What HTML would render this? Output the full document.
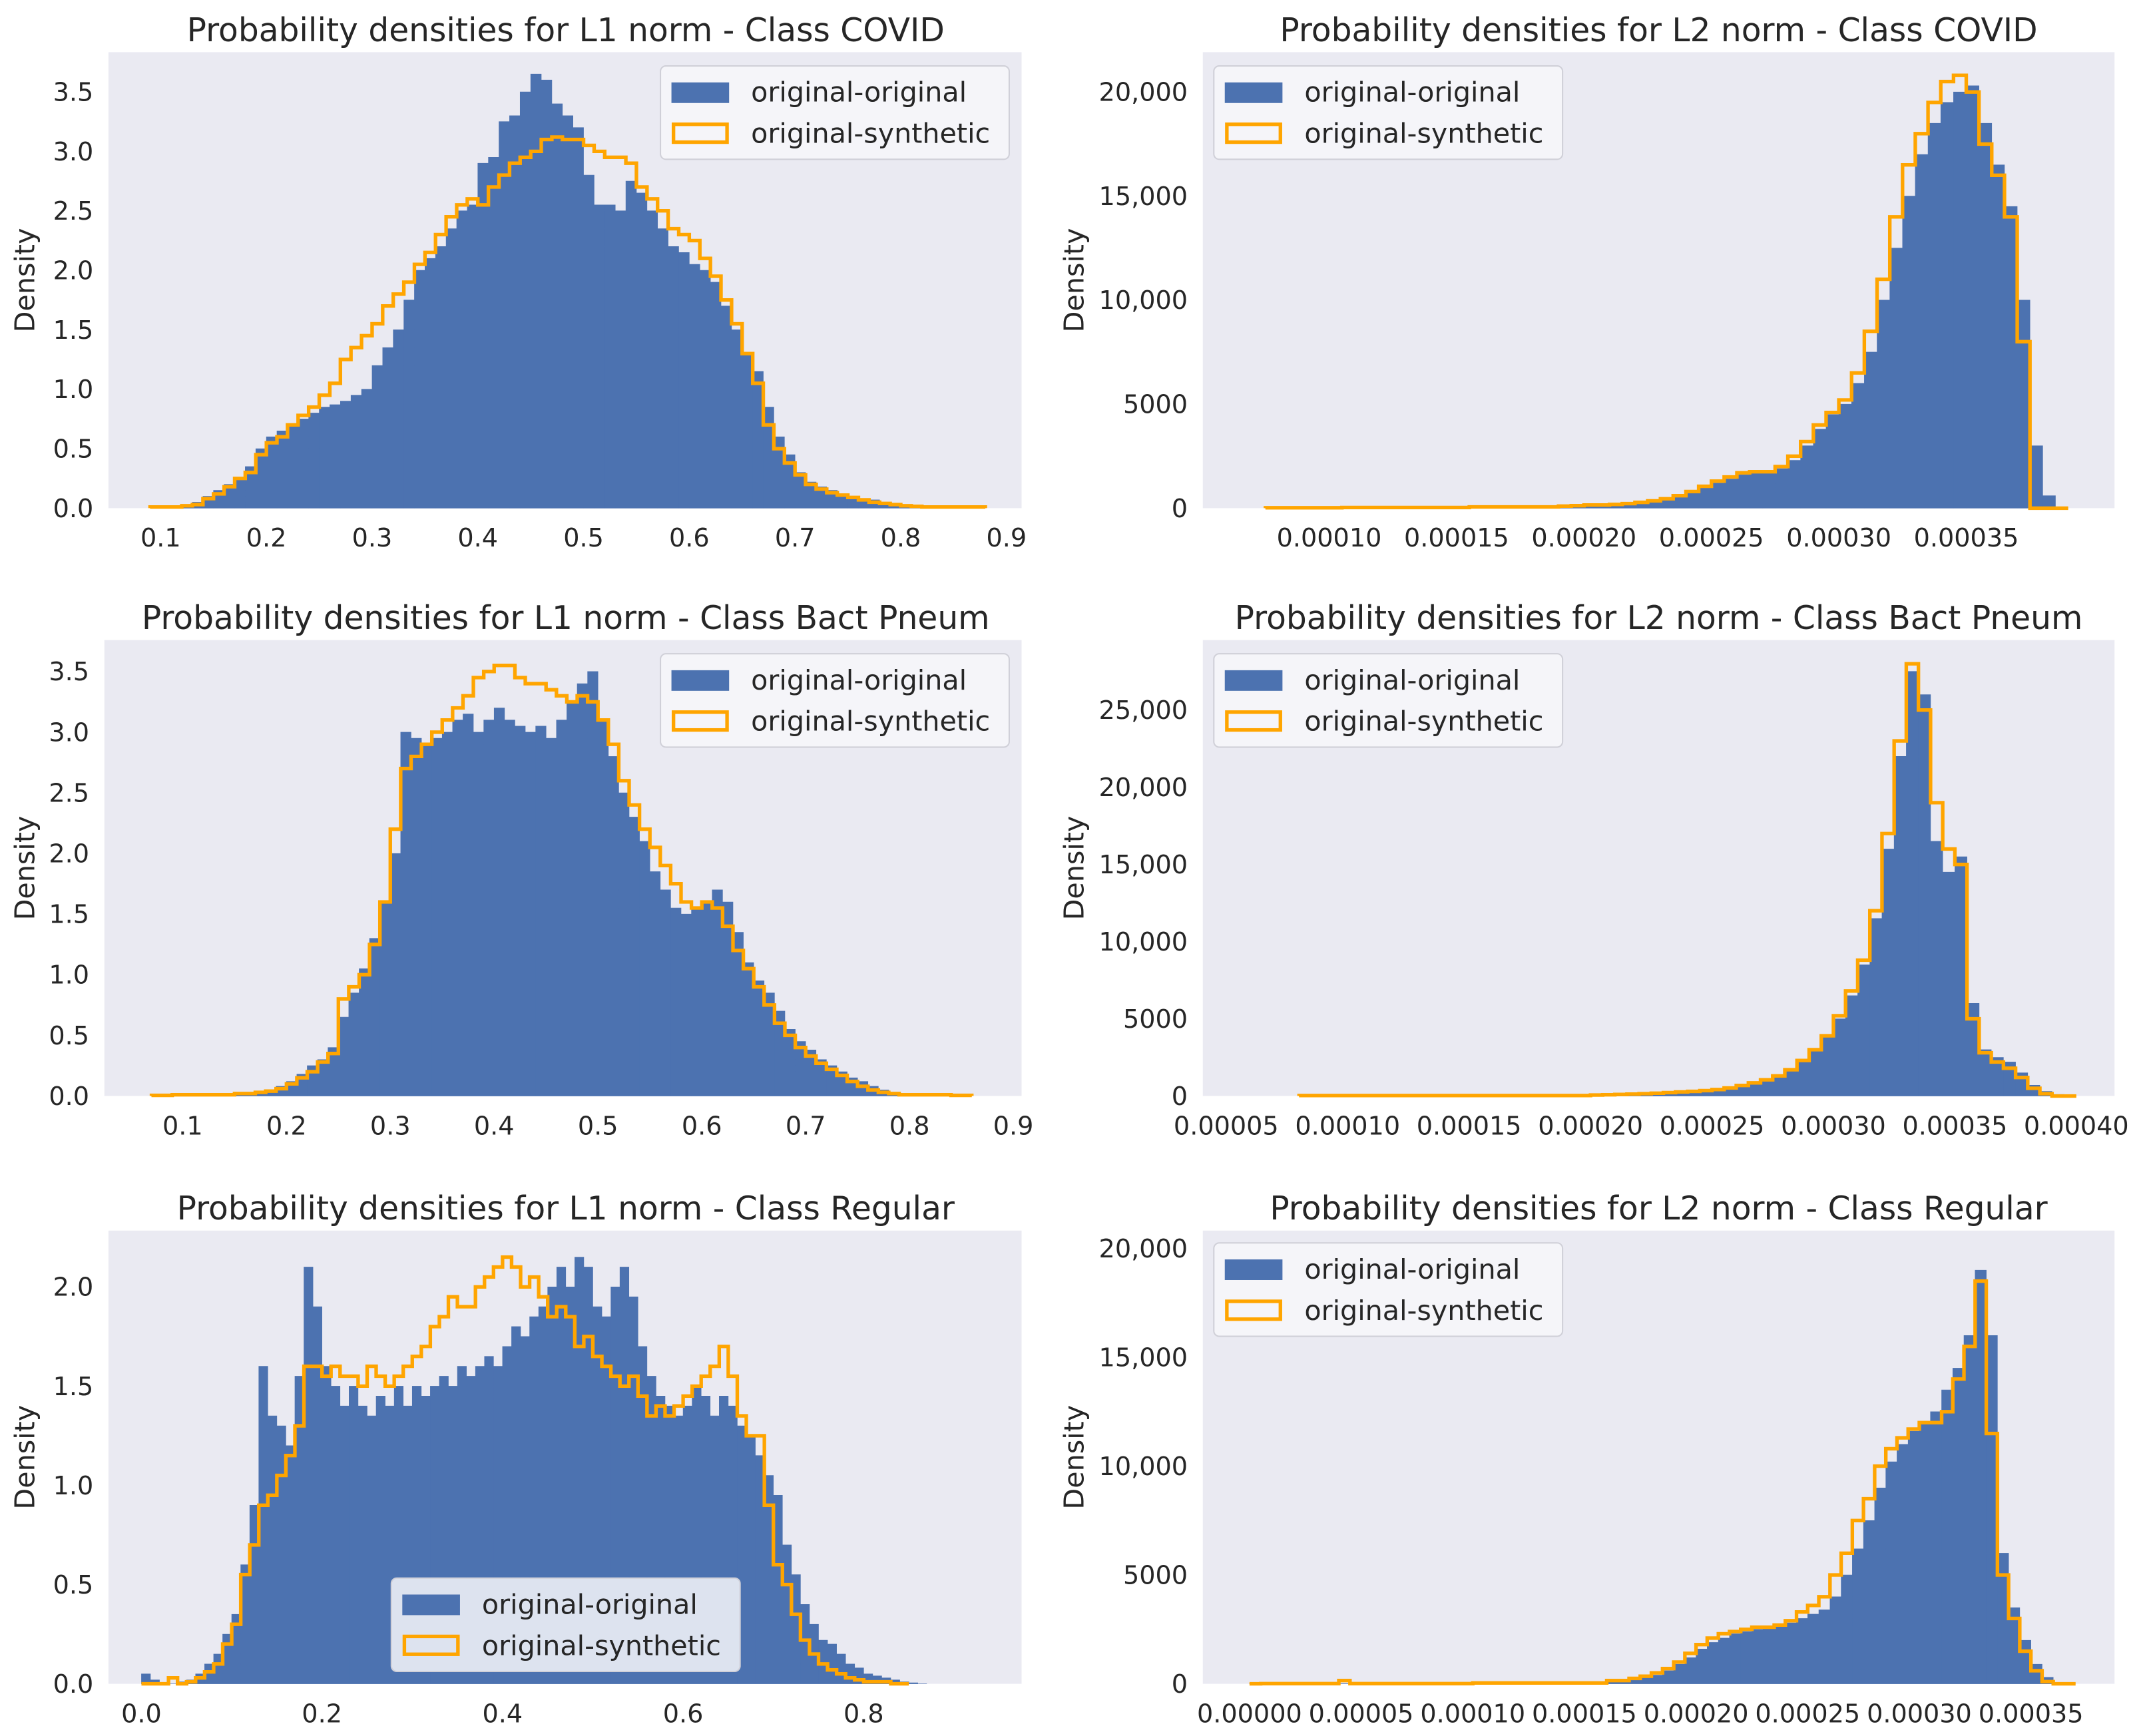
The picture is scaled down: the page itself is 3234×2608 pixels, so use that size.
<!DOCTYPE html>
<html><head><meta charset="utf-8"><style>
html,body{margin:0;padding:0;background:#fff;}
svg{display:block;font-family:"DejaVu Sans","Liberation Sans",sans-serif;}
</style></head><body>
<svg id="fig" width="3234" height="2608" viewBox="0 0 1568 1264" preserveAspectRatio="none" xmlns="http://www.w3.org/2000/svg"></svg>
<script>
// ---- data (L1 panels: bin width 0.01; L2 panels: x in 1e-5 units, bin width 0.5) ----
const covidL1Start = 0.09;
const covidL1Orig = [0,0.01,0.02,0.03,0.05,0.1,0.15,0.2,0.25,0.35,0.5,0.6,0.65,0.7,0.75,0.8,0.85,0.87,0.9,0.95,1.0,1.2,1.35,1.5,1.75,2.0,2.1,2.2,2.35,2.5,2.55,2.9,2.95,3.25,3.3,3.5,3.65,3.6,3.4,3.3,3.2,2.8,2.55,2.55,2.5,2.75,2.65,2.5,2.35,2.2,2.15,2.05,2.0,1.9,1.7,1.5,1.3,1.15,0.85,0.6,0.45,0.3,0.22,0.18,0.15,0.12,0.1,0.08,0.07,0.05,0.04,0.03,0.02,0.01,0.005,0.003,0.002,0.001,0];
const covidL1Synth = [0.01,0.01,0.01,0.02,0.03,0.08,0.12,0.18,0.25,0.3,0.45,0.55,0.6,0.7,0.78,0.85,0.95,1.05,1.25,1.35,1.45,1.55,1.7,1.8,1.9,2.05,2.15,2.3,2.45,2.55,2.6,2.55,2.7,2.8,2.9,2.95,3.0,3.1,3.12,3.1,3.1,3.05,3.0,2.95,2.95,2.9,2.7,2.6,2.5,2.35,2.3,2.25,2.1,1.95,1.75,1.55,1.3,1.05,0.7,0.5,0.38,0.28,0.2,0.16,0.13,0.11,0.09,0.07,0.05,0.04,0.03,0.02,0.015,0.01,0.01,0.01,0.01,0.01,0.01];
const bactL1Start = 0.07;
const bactL1Orig = [0.01,0.01,0.01,0.01,0.01,0.01,0.02,0.02,0.02,0.03,0.04,0.05,0.08,0.12,0.18,0.25,0.3,0.4,0.65,0.85,1.05,1.3,1.6,2.0,3.0,2.95,2.9,2.95,3.0,3.1,3.15,3.0,3.1,3.2,3.1,3.05,3.0,3.05,2.95,3.1,3.25,3.4,3.5,3.1,2.8,2.5,2.3,2.1,1.85,1.7,1.55,1.5,1.55,1.6,1.7,1.6,1.35,1.1,0.95,0.85,0.7,0.55,0.45,0.38,0.3,0.25,0.2,0.15,0.12,0.08,0.05,0.03,0.02,0.01,0.005,0.003,0.002,0.001,0];
const bactL1Synth = [0.005,0.005,0.01,0.01,0.01,0.01,0.01,0.01,0.02,0.02,0.03,0.04,0.06,0.1,0.15,0.2,0.28,0.35,0.8,0.9,1.0,1.25,1.6,2.2,2.7,2.8,2.9,3.0,3.1,3.2,3.3,3.45,3.5,3.55,3.55,3.45,3.4,3.4,3.35,3.3,3.25,3.3,3.25,3.1,2.9,2.6,2.4,2.2,2.05,1.9,1.75,1.6,1.55,1.6,1.55,1.4,1.2,1.05,0.9,0.75,0.6,0.5,0.4,0.33,0.27,0.22,0.17,0.12,0.08,0.05,0.03,0.02,0.01,0.01,0.01,0.01,0.01,0.005,0.005];
const regL1Start = 0.0;
const regL1Orig = [0.05,0.02,0,0,0.01,0.02,0.05,0.1,0.15,0.25,0.35,0.6,0.9,1.6,1.35,1.3,1.2,1.55,2.1,1.9,1.6,1.5,1.4,1.5,1.4,1.35,1.45,1.4,1.5,1.4,1.5,1.45,1.5,1.55,1.5,1.6,1.55,1.6,1.65,1.6,1.7,1.8,1.75,1.85,1.9,2.0,2.1,2.0,2.15,2.1,1.9,1.85,2.0,2.1,1.95,1.7,1.55,1.45,1.4,1.35,1.4,1.5,1.45,1.35,1.45,1.4,1.3,1.25,1.15,1.05,0.95,0.7,0.55,0.4,0.3,0.22,0.2,0.15,0.1,0.08,0.05,0.04,0.03,0.02,0.01,0.005,0];
const regL1Synth = [0,0,0,0.03,0,0.01,0.03,0.06,0.1,0.2,0.3,0.55,0.7,0.9,0.95,1.05,1.15,1.3,1.6,1.6,1.55,1.6,1.55,1.55,1.5,1.6,1.55,1.5,1.55,1.6,1.65,1.7,1.8,1.85,1.95,1.9,1.9,2.0,2.05,2.1,2.15,2.1,2.0,2.05,1.95,1.85,1.9,1.85,1.7,1.75,1.65,1.6,1.55,1.5,1.55,1.45,1.35,1.4,1.35,1.4,1.45,1.5,1.55,1.6,1.7,1.55,1.35,1.25,1.25,0.9,0.6,0.5,0.35,0.22,0.15,0.1,0.07,0.05,0.03,0.02,0.01,0.01,0.01,0,0];
const covidL2Start = 7.5;
const covidL2Orig = [20,20,20,20,20,20,30,30,30,30,30,30,30,30,30,30,60,60,60,60,60,60,60,100,120,150,150,180,220,280,350,450,600,750,1000,1200,1400,1600,1700,1700,1900,2300,3000,3800,4500,5000,6000,7500,10000,12500,15000,17000,18500,19500,20000,20300,18500,16500,14500,10000,3000,600,0];
const covidL2Synth = [20,20,20,20,20,20,30,30,30,30,30,30,30,30,30,30,60,60,60,60,60,60,60,100,120,150,150,180,220,280,350,450,600,800,1050,1300,1500,1700,1750,1750,2000,2500,3200,4000,4600,5200,6500,8500,11000,14000,16500,18000,19500,20500,20800,20000,17500,16000,14000,8000,0,0,0];
const bactL2Start = 8;
const bactL2Orig = [30,30,30,30,30,30,30,30,30,30,30,30,30,30,30,30,30,30,30,30,30,30,30,30,60,80,100,120,150,180,220,260,300,350,400,500,650,800,1000,1200,1600,2200,2900,3800,5000,6500,8500,11500,16000,22000,27500,26000,16500,14500,15500,6000,3000,2500,2200,1500,700,300,100,0];
const bactL2Synth = [30,30,30,30,30,30,30,30,30,30,30,30,30,30,30,30,30,30,30,30,30,30,30,30,60,80,100,120,150,180,220,260,300,350,420,520,680,850,1050,1300,1700,2300,3000,3900,5200,6800,8800,12000,17000,23000,28000,25000,19000,16000,15000,5000,2800,2200,1800,1200,500,150,0,0];
const regL2Start = 0;
const regL2Orig = [10,10,10,10,10,10,10,10,10,10,10,10,10,10,10,10,10,10,10,10,40,40,40,40,40,40,40,40,40,40,40,40,100,150,200,300,400,600,900,1200,1600,1900,2100,2300,2400,2500,2600,2700,2800,3000,3200,3400,4000,5000,6200,7500,9000,10200,11000,11600,12000,12500,13500,14500,16000,19000,16000,6000,3500,2000,900,300,50,0];
const regL2Synth = [0,10,10,10,10,10,10,10,150,10,10,10,10,10,10,10,10,10,10,10,40,40,40,40,40,40,40,40,40,40,40,40,150,150,250,350,500,700,1000,1400,1800,2100,2300,2400,2500,2600,2600,2700,2900,3300,3600,4000,5000,6000,7500,8500,10000,10800,11300,11700,12000,12000,12500,14000,15500,18500,11500,5000,3000,1500,600,100,0,0];
// tick labels
const l1xTicks = [0.1,0.2,0.3,0.4,0.5,0.6,0.7,0.8,0.9];
const l1xLabels = ["0.1","0.2","0.3","0.4","0.5","0.6","0.7","0.8","0.9"];
const regL1xTicks = [0.0,0.2,0.4,0.6,0.8];
const regL1xLabels = ["0.0","0.2","0.4","0.6","0.8"];
const l1yTicks = [0,0.5,1,1.5,2,2.5,3,3.5];
const l1yLabels = ["0.0","0.5","1.0","1.5","2.0","2.5","3.0","3.5"];
const regL1yTicks = [0,0.5,1,1.5,2];
const regL1yLabels = ["0.0","0.5","1.0","1.5","2.0"];
const covidL2xTicks = [10,15,20,25,30,35];
const covidL2xLabels = ["0.00010","0.00015","0.00020","0.00025","0.00030","0.00035"];
const bactL2xTicks = [5,10,15,20,25,30,35,40];
const bactL2xLabels = ["0.00005","0.00010","0.00015","0.00020","0.00025","0.00030","0.00035","0.00040"];
const regL2xTicks = [0,5,10,15,20,25,30,35];
const regL2xLabels = ["0.00000","0.00005","0.00010","0.00015","0.00020","0.00025","0.00030","0.00035"];
const l2yTicks20 = [0,5000,10000,15000,20000];
const l2yLabels20 = ["0","5000","10,000","15,000","20,000"];
const l2yTicks25 = [0,5000,10000,15000,20000,25000];
const l2yLabels25 = ["0","5000","10,000","15,000","20,000","25,000"];

const NS = "http://www.w3.org/2000/svg";
const svg = document.getElementById('fig');
function mk(tag, attrs, parent){const e=document.createElementNS(NS,tag);for(const k in attrs)e.setAttribute(k,attrs[k]);(parent||svg).appendChild(e);return e;}

function panel(cfg){
  const g = mk('g',{});
  
  
  const bg = mk('rect',{x:cfg.x0,y:cfg.y0,width:cfg.x1-cfg.x0,height:cfg.y1-cfg.y0,fill:'#eaeaf2'},g);
  
  
  const X = cfg.xs, Y = cfg.ys;
  let d = '';
  cfg.orig.forEach((v,i)=>{
    const a = X(cfg.start + i*cfg.w), b = X(cfg.start + (i+1)*cfg.w);
    d += `M${a},${cfg.y1}L${a},${Y(v)}L${b},${Y(v)}L${b},${cfg.y1}Z`;
  });
  const bars = mk('path',{d:d,fill:'#4c72b0',stroke:'#4c72b0','stroke-width':0.3},g);
  
  
  let p = `M${X(cfg.start)},${cfg.y1}`;
  cfg.synth.forEach((v,i)=>{
    const a = X(cfg.start + i*cfg.w), b = X(cfg.start + (i+1)*cfg.w);
    p += `L${a},${Y(v)}L${b},${Y(v)}`;
  });
  p += `L${X(cfg.start + cfg.synth.length*cfg.w)},${cfg.y1}`;
  const line = mk('path',{d:p,fill:'none',stroke:'#ffa500','stroke-width':2.6,'stroke-linejoin':'miter'},g);
  
  
  cfg.xt.forEach((v,i)=>{
    const t = mk('text',{x:X(v),y:cfg.y1+28,'text-anchor':'middle','font-size':18.5,fill:'#262626'},g);
    t.textContent = cfg.xl[i];
    
    
  });
  cfg.yt.forEach((v,i)=>{
    const t = mk('text',{x:cfg.x0-11,y:Y(v)+6.5,'text-anchor':'end','font-size':18.5,fill:'#262626'},g);
    t.textContent = cfg.yl[i];
    
    
  });
  const yl = mk('text',{x:0,y:0,'text-anchor':'middle','font-size':20,fill:'#262626',transform:`translate(${cfg.ylx},${(cfg.y0+cfg.y1)/2}) rotate(-90)`},g);
  yl.textContent = 'Density';
  
  
  const tt = mk('text',{x:cfg.tx,y:cfg.y0-8,'text-anchor':'middle','font-size':23.6,fill:'#262626'},g);
  tt.textContent = cfg.title;
  
  
  const lg = mk('g',{},g);
  
  
  mk('rect',{x:cfg.lx,y:cfg.ly,width:254,height:68,rx:4,fill:'#f7f7fa','fill-opacity':0.85,stroke:'#d0d0d8','stroke-width':1},lg);
  mk('rect',{x:cfg.lx+8,y:cfg.ly+12,width:42,height:15,fill:'#4c72b0'},lg);
  mk('rect',{x:cfg.lx+9.5,y:cfg.ly+42.5,width:39,height:13,fill:'none',stroke:'#ffa500','stroke-width':2.6},lg);
  const t1 = mk('text',{x:cfg.lx+66,y:cfg.ly+26,'font-size':20,fill:'#262626'},lg);
  t1.textContent = 'original-original';
  
  
  const t2 = mk('text',{x:cfg.lx+66,y:cfg.ly+56,'font-size':20,fill:'#262626'},lg);
  t2.textContent = 'original-synthetic';
  
  
}

panel({name:'l1-covid-chart',x0:79,x1:744,y0:38,y1:370,xs:v=>117+(v-0.1)*770,ys:v=>370-v*86.6,
  start:covidL1Start,w:0.01,orig:covidL1Orig,synth:covidL1Synth,xt:l1xTicks,xl:l1xLabels,yt:l1yTicks,yl:l1yLabels,
  ylx:25,tx:412,title:'Probability densities for L1 norm - Class COVID',lx:481,ly:48});
panel({name:'l2-covid-chart',x0:876,x1:1540,y0:38,y1:370,xs:v=>968+(v-10)*18.56,ys:v=>370-v*303/20000,
  start:covidL2Start,w:0.5,orig:covidL2Orig,synth:covidL2Synth,xt:covidL2xTicks,xl:covidL2xLabels,yt:l2yTicks20,yl:l2yLabels20,
  ylx:789,tx:1208,title:'Probability densities for L2 norm - Class COVID',lx:884,ly:48});
panel({name:'l1-bact-chart',x0:76,x1:744,y0:466,y1:798,xs:v=>133+(v-0.1)*756.25,ys:v=>798-v*88.3,
  start:bactL1Start,w:0.01,orig:bactL1Orig,synth:bactL1Synth,xt:l1xTicks,xl:l1xLabels,yt:l1yTicks,yl:l1yLabels,
  ylx:25,tx:412,title:'Probability densities for L1 norm - Class Bact Pneum',lx:481,ly:476});
panel({name:'l2-bact-chart',x0:876,x1:1540,y0:466,y1:798,xs:v=>893+(v-5)*17.69,ys:v=>798-v*281/25000,
  start:bactL2Start,w:0.5,orig:bactL2Orig,synth:bactL2Synth,xt:bactL2xTicks,xl:bactL2xLabels,yt:l2yTicks25,yl:l2yLabels25,
  ylx:789,tx:1208,title:'Probability densities for L2 norm - Class Bact Pneum',lx:884,ly:476});
panel({name:'l1-regular-chart',x0:79,x1:744,y0:896,y1:1226,xs:v=>103+v*657.5,ys:v=>1226-v*144.5,
  start:regL1Start,w:0.01,orig:regL1Orig,synth:regL1Synth,xt:regL1xTicks,xl:regL1xLabels,yt:regL1yTicks,yl:regL1yLabels,
  ylx:25,tx:412,title:'Probability densities for L1 norm - Class Regular',lx:285,ly:1149});
panel({name:'l2-regular-chart',x0:876,x1:1540,y0:896,y1:1226,xs:v=>910+v*16.26,ys:v=>1226-v*317/20000,
  start:regL2Start,w:0.5,orig:regL2Orig,synth:regL2Synth,xt:regL2xTicks,xl:regL2xLabels,yt:l2yTicks20,yl:l2yLabels20,
  ylx:789,tx:1208,title:'Probability densities for L2 norm - Class Regular',lx:884,ly:905});
</script>
</body></html>
